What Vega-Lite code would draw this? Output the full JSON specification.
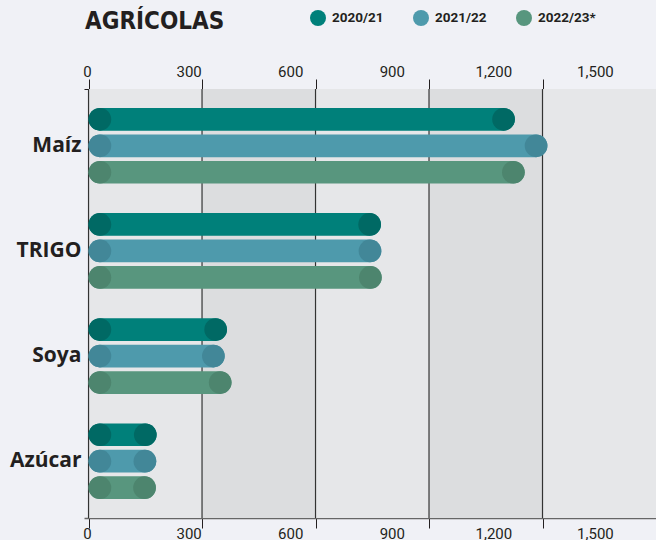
{
  "$schema": "https://vega.github.io/schema/vega-lite/v6.json",
  "autosize": {"type": "none"},
  "width": 572,
  "height": 429,
  "padding": {"left": 84, "top": 89, "right": 0, "bottom": 22},
  "background": "#f0f1f6",
  "title": {"text": "AGRÍCOLAS", "anchor": "start", "frame": "group", "font": "DejaVu Sans Condensed", "fontSize": 24, "fontWeight": "bold", "color": "#231f20", "dx": 1, "dy": 28},
  "config": {"view": {"stroke": null}},
  "datasets": {
    "crops": [
      {"cultivo": "Maíz", "ciclo": "2020/21", "valor": 1127},
      {"cultivo": "Maíz", "ciclo": "2021/22", "valor": 1213},
      {"cultivo": "Maíz", "ciclo": "2022/23*", "valor": 1153},
      {"cultivo": "TRIGO", "ciclo": "2020/21", "valor": 773},
      {"cultivo": "TRIGO", "ciclo": "2021/22", "valor": 774},
      {"cultivo": "TRIGO", "ciclo": "2022/23*", "valor": 775},
      {"cultivo": "Soya", "ciclo": "2020/21", "valor": 366},
      {"cultivo": "Soya", "ciclo": "2021/22", "valor": 360},
      {"cultivo": "Soya", "ciclo": "2022/23*", "valor": 378},
      {"cultivo": "Azúcar", "ciclo": "2020/21", "valor": 180},
      {"cultivo": "Azúcar", "ciclo": "2021/22", "valor": 179},
      {"cultivo": "Azúcar", "ciclo": "2022/23*", "valor": 178}
    ]
  },
  "layer": [
    {
      "data": {"values": [{"desde": 0, "hasta": 300}, {"desde": 600, "hasta": 900}, {"desde": 1200, "hasta": 1500}]},
      "mark": {"type": "rect", "color": "#e6e7e9"},
      "encoding": {
        "x": {"field": "desde", "type": "quantitative", "scale": {"domain": [-12, 1500], "nice": false, "zero": false},
          "axis": {"orient": "top", "values": [0, 300, 600, 900, 1200, 1500], "title": null, "grid": false, "format": ",d",
            "labelFont": "Roboto", "labelFontSize": 15, "labelColor": "#231f20", "labelFlush": false, "labelOverlap": false,
            "tickSize": 10, "tickColor": "#231f20", "domainColor": "#231f20", "labelPadding": 0,
            "labelOffset": {"expr": "-1.5 - datum.value*0.0397"},
            "tickOpacity": {"condition": {"test": "datum.value >= 1500", "value": 0}, "value": 1}}},
        "x2": {"field": "hasta"}
      }
    },
    {
      "data": {"values": [{"desde": 300, "hasta": 600}, {"desde": 900, "hasta": 1200}]},
      "mark": {"type": "rect", "color": "#dcdddf"},
      "encoding": {
        "x": {"field": "desde", "type": "quantitative", "scale": {"domain": [-12, 1500], "nice": false, "zero": false},
          "axis": {"orient": "bottom", "values": [0, 300, 600, 900, 1200, 1500], "title": null, "grid": false, "format": ",d",
            "labelFont": "Roboto", "labelFontSize": 15, "labelColor": "#231f20", "labelFlush": false, "labelOverlap": false,
            "tickSize": 10, "tickColor": "#231f20", "domainColor": "#666666", "domainWidth": 1.5, "labelPadding": -2,
            "labelOffset": {"expr": "-1.5 - datum.value*0.0397"},
            "tickOpacity": {"condition": {"test": "datum.value >= 1500", "value": 0}, "value": 1}}},
        "x2": {"field": "hasta"}
      }
    },
    {
      "data": {"values": [{"v": 0}, {"v": 300}, {"v": 600}, {"v": 900}, {"v": 1200}]},
      "mark": {"type": "rule", "color": "#333333", "strokeWidth": 1.2},
      "encoding": {
        "x": {"field": "v", "type": "quantitative", "scale": {"domain": [-12, 1500], "nice": false, "zero": false}, "axis": null}
      }
    },
    {
      "data": {"name": "crops"},
      "mark": {"type": "bar", "cornerRadius": 11.35},
      "encoding": {
        "y": {"field": "cultivo", "type": "nominal", "sort": null, "scale": {"paddingInner": 0, "paddingOuter": 0.04},
          "axis": {"title": null, "domain": false, "ticks": false, "labelFont": "Open Sans", "labelFontSize": 21, "labelFontWeight": "bold", "labelColor": "#231f20", "labelPadding": 3, "labelLimit": 200}},
        "yOffset": {"field": "ciclo", "type": "nominal", "sort": ["2020/21", "2021/22", "2022/23*"], "scale": {"paddingInner": 0.143, "paddingOuter": 0.556}},
        "x": {"field": "valor", "type": "quantitative", "scale": {"domain": [-12, 1500], "nice": false, "zero": false}, "axis": null},
        "x2": {"datum": 0},
        "color": {"field": "ciclo", "type": "nominal", "sort": ["2020/21", "2021/22", "2022/23*"],
          "scale": {"domain": ["2020/21", "2021/22", "2022/23*"], "range": ["#00807a", "#4e9aac", "#58967e"]},
          "legend": {"title": null, "orient": "none", "legendX": 226, "legendY": -79, "direction": "horizontal", "symbolType": "circle", "symbolSize": 256, "symbolStrokeWidth": 0, "labelFont": "Roboto", "labelFontSize": 13.5, "labelFontWeight": "bold", "labelColor": "#231f20", "labelOffset": 6, "columnPadding": 29, "padding": 0}}
      }
    },
    {
      "data": {"name": "crops"},
      "mark": {"type": "point", "shape": "circle", "filled": true, "size": 515, "opacity": 1, "strokeWidth": 0, "xOffset": 11.35},
      "encoding": {
        "y": {"field": "cultivo", "type": "nominal", "sort": null},
        "yOffset": {"field": "ciclo", "type": "nominal", "sort": ["2020/21", "2021/22", "2022/23*"]},
        "x": {"datum": 0, "type": "quantitative", "scale": {"domain": [-12, 1500], "nice": false, "zero": false}, "axis": null},
        "fill": {"field": "ciclo", "type": "nominal", "scale": {"domain": ["2020/21", "2021/22", "2022/23*"], "range": ["#006964", "#428798", "#4d856e"]}, "legend": null}
      }
    },
    {
      "data": {"name": "crops"},
      "mark": {"type": "point", "shape": "circle", "filled": true, "size": 515, "opacity": 1, "strokeWidth": 0, "xOffset": -11.35},
      "encoding": {
        "y": {"field": "cultivo", "type": "nominal", "sort": null},
        "yOffset": {"field": "ciclo", "type": "nominal", "sort": ["2020/21", "2021/22", "2022/23*"]},
        "x": {"field": "valor", "type": "quantitative", "scale": {"domain": [-12, 1500], "nice": false, "zero": false}, "axis": null},
        "fill": {"field": "ciclo", "type": "nominal", "scale": {"domain": ["2020/21", "2021/22", "2022/23*"], "range": ["#006964", "#428798", "#4d856e"]}, "legend": null}
      }
    }
  ]
}
